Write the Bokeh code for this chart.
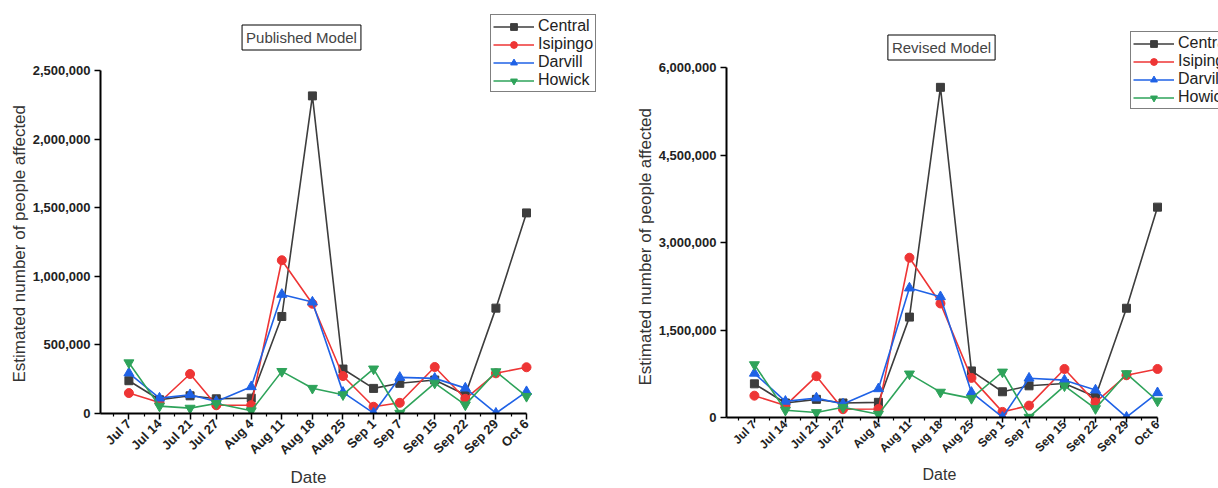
import pandas as pd
from bokeh.plotting import figure
from bokeh.layouts import row, column
from bokeh.models import (FixedTicker, NumeralTickFormatter, Label, Legend,
                          LegendItem, Range1d, Title)
from bokeh.embed import file_html
from bokeh.resources import INLINE

# ---------------- data ----------------
dates = ["2020-07-07", "2020-07-14", "2020-07-21", "2020-07-27", "2020-08-04",
         "2020-08-11", "2020-08-18", "2020-08-25", "2020-09-01", "2020-09-07",
         "2020-09-15", "2020-09-22", "2020-09-29", "2020-10-06"]
tick_labels = ["Jul 7", "Jul 14", "Jul 21", "Jul 27", "Aug 4", "Aug 11", "Aug 18",
               "Aug 25", "Sep 1", "Sep 7", "Sep 15", "Sep 22", "Sep 29", "Oct 6"]
series_names = ["Central", "Isipingo", "Darvill", "Howick"]

pub_central = [239000, 100000, 129000, 107000, 112000, 707000, 2315000, 324000,
               183000, 220000, 244000, 137000, 768000, 1462000]
pub_isipingo = [149000, 80000, 288000, 60000, 61000, 1117000, 800000, 273000,
                49000, 78000, 339000, 107000, 293000, 337000]
pub_darvill = [295000, 112000, 137000, 88000, 195000, 868000, 812000, 154000,
               3000, 263000, 256000, 185000, 2000, 159000]
pub_howick = [370000, 54000, 39000, 73000, 20000, 307000, 184000, 137000,
              325000, 2000, 222000, 63000, 305000, 125000]

rev_central = [577000, 249000, 311000, 249000, 260000, 1721000, 5660000, 798000,
               441000, 543000, 583000, 357000, 1873000, 3606000]
rev_isipingo = [374000, 204000, 708000, 142000, 147000, 2739000, 1955000, 679000,
                96000, 204000, 832000, 260000, 724000, 832000]
rev_darvill = [758000, 277000, 334000, 232000, 492000, 2219000, 2070000, 430000,
               5000, 674000, 640000, 470000, 5000, 424000]
rev_howick = [906000, 125000, 85000, 175000, 57000, 747000, 435000, 328000,
              780000, 5000, 543000, 153000, 753000, 283000]

pub_ticks = [0, 500000, 1000000, 1500000, 2000000, 2500000]
rev_ticks = [0, 1500000, 3000000, 4500000, 6000000]

x_title = "Date"
y_title = "Estimated number of people affected"

# ---------------- styling ----------------
colors = ["#3d3d3d", "#ee3535", "#1f62e6", "#2ea35a"]
markers = ["square", "circle", "triangle", "inverted_triangle"]
msizes = [8, 9, 10, 10]
FONT = "Liberation Sans"
H = 488

days = (pd.to_datetime(dates) - pd.to_datetime(dates[0])).days.tolist()
minor = [days[0] - (days[1] - days[0]) / 2] + [(a + b) / 2 for a, b in zip(days[:-1], days[1:])]


def make_panel(width, title, values, yticks, x_start, border_left, border_bottom,
               top_gap, right_px, title_pos, legend_pos, xlab_off, ylab_off,
               xfont, xtick_out, xlab_standoff, xtitle_font):
    # frame fills the canvas to the top and right; axes are bounded to the data span
    frame_w = width - border_left
    frame_h = H - border_bottom
    y_end = yticks[-1] * frame_h / (frame_h - top_gap)
    px_per_day = (frame_w - right_px) / (days[-1] - x_start)
    x_end = days[-1] + right_px / px_per_day

    p = figure(width=width, height=H, output_backend="svg", toolbar_location=None,
               x_range=Range1d(x_start, x_end),
               y_range=Range1d(yticks[0], y_end),
               min_border_left=border_left, min_border_right=0,
               min_border_top=0, min_border_bottom=border_bottom)
    p.outline_line_color = None
    p.xgrid.visible = False
    p.ygrid.visible = False
    p.background_fill_color = "white"
    p.border_fill_color = "white"

    items = []
    for name, vals, c, m, s in zip(series_names, values, colors, markers, msizes):
        ln = p.line(days, vals, line_color=c, line_width=1.6)
        sc = p.scatter(days, vals, marker=m, size=s, fill_color=c, line_color=c)
        items.append(LegendItem(label=name, renderers=[ln, sc]))

    # axes
    for ax in (p.xaxis[0], p.yaxis[0]):
        ax.axis_line_color = "black"
        ax.axis_line_width = 2
        ax.major_tick_line_color = "black"
        ax.major_tick_line_width = 1.5
        ax.major_tick_in = 0
        ax.major_tick_out = 6
        ax.minor_tick_line_color = "black"
        ax.minor_tick_line_width = 1.2
        ax.minor_tick_in = 0
        ax.minor_tick_out = 3
        ax.major_label_text_font = FONT
        ax.major_label_text_font_style = "bold"
        ax.major_label_text_font_size = "13px"
        ax.major_label_text_color = "#222222"

    p.xaxis.bounds = (x_start, days[-1])
    p.xaxis.ticker = FixedTicker(ticks=days, minor_ticks=minor)
    p.xaxis.major_label_overrides = {d: lab for d, lab in zip(days, tick_labels)}
    p.xaxis.major_label_orientation = 0.785
    p.xaxis.major_label_standoff = xlab_standoff
    p.xaxis.major_label_text_font_size = xfont
    p.xaxis.major_tick_out = xtick_out

    p.yaxis.bounds = (yticks[0], yticks[-1])
    p.yaxis.ticker = FixedTicker(ticks=yticks, minor_ticks=[])
    p.yaxis.formatter = NumeralTickFormatter(format="0,0")
    p.yaxis.major_label_standoff = 4

    # axis titles as side-panel titles so they centre on the bounded axes
    p.add_layout(Title(text=x_title, align="left", offset=xlab_off, standoff=0,
                       text_line_height=1.0,
                       text_font=FONT, text_font_style="normal",
                       text_font_size=xtitle_font, text_color="#333333"), "below")
    p.add_layout(Title(text=y_title, align="left", offset=ylab_off, standoff=2,
                       text_font=FONT, text_font_style="normal",
                       text_font_size="17px", text_color="#333333"), "left")

    p.add_layout(Label(x=title_pos[0], y=frame_h - title_pos[1],
                       x_units="screen", y_units="screen",
                       text=title, text_font=FONT, text_font_size="15px",
                       text_align="center", text_baseline="middle",
                       border_line_color="black", border_line_width=1,
                       background_fill_color="white", padding=4))

    leg = Legend(items=items, location=(legend_pos[0], frame_h - legend_pos[1]),
                 label_text_font=FONT, label_text_font_size="16px",
                 label_text_color="#222222",
                 glyph_width=41, glyph_height=17, label_height=17,
                 label_standoff=4, spacing=0, padding=2, margin=0,
                 border_line_color="black", border_line_width=1,
                 background_fill_color="white", background_fill_alpha=1)
    p.add_layout(leg)
    return p


# positions below are in pixels from the frame's left edge / the canvas top
p1 = make_panel(610, "Published Model",
                [pub_central, pub_isipingo, pub_darvill, pub_howick], pub_ticks,
                -6.5, 100, 75, 70, 84, (201, 37), (390, 92), 190, 31,
                "13px", 6, 2, "17px")
p2 = make_panel(608, "Revised Model",
                [rev_central, rev_isipingo, rev_darvill, rev_howick], rev_ticks,
                -6.3, 116, 71, 67, 61, (215, 47), (404, 109), 196, 32,
                "12px", 5, 0, "16px")

# each figure in its own column so their frames are not aligned to each other
layout = row(column(p1), column(p2), spacing=0)
open("out.html", "w").write(file_html(layout, INLINE))
